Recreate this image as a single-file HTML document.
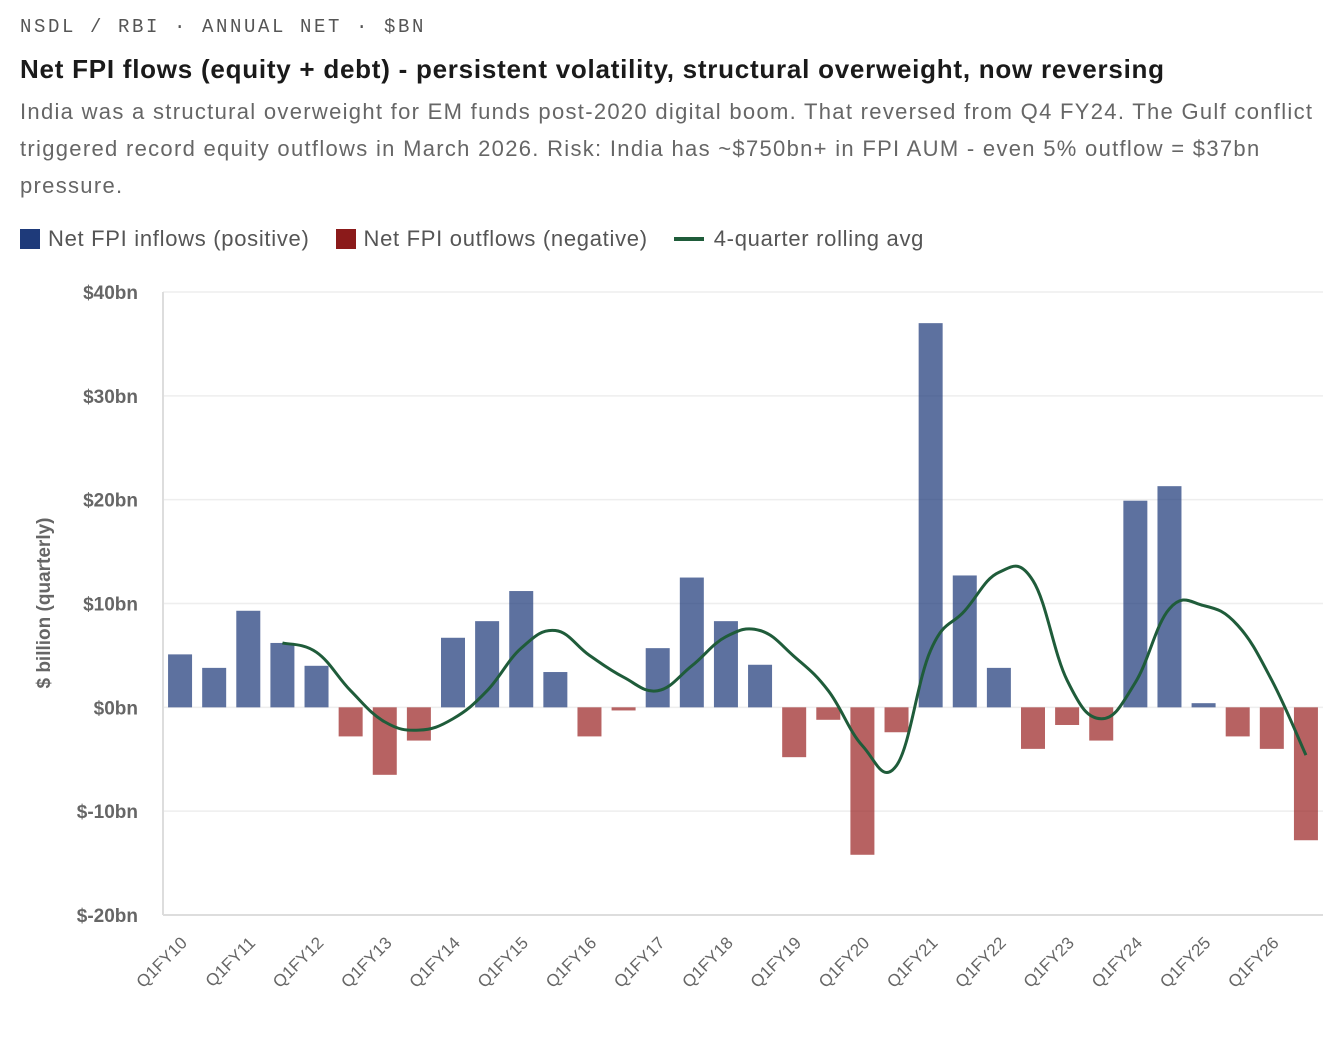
<!DOCTYPE html>
<html><head><meta charset="utf-8">
<style>
body{margin:0;background:#fff;width:1342px;height:1040px;overflow:hidden;font-family:"Liberation Sans",sans-serif;}
.hdr{position:absolute;left:20px;top:16px;font-family:"Liberation Mono",monospace;font-size:19px;letter-spacing:2.6px;color:#555;}
.title{position:absolute;left:20px;top:54px;font-size:26px;font-weight:bold;color:#1a1a1a;letter-spacing:0.75px;white-space:nowrap;}
.desc{position:absolute;left:20px;top:93px;width:1330px;font-size:22px;line-height:37px;color:#666;letter-spacing:1.3px;white-space:nowrap;}
.legend{position:absolute;left:20px;top:226px;font-size:22px;color:#555;display:flex;align-items:center;letter-spacing:0.7px;}
.sw{display:inline-block;width:20px;height:20px;margin-right:8px;}
.li{display:flex;align-items:center;margin-right:26px;}
</style></head><body>
<div class="hdr">NSDL / RBI · ANNUAL NET · $BN</div>
<div class="title">Net FPI flows (equity + debt) - persistent volatility, structural overweight, now reversing</div>
<div class="desc">India was a structural overweight for EM funds post-2020 digital boom. That reversed from Q4 FY24. The Gulf conflict<br>triggered record equity outflows in March 2026. Risk: India has ~$750bn+ in FPI AUM - even 5% outflow = $37bn<br>pressure.</div>
<div class="legend">
<div class="li"><span class="sw" style="background:#1e3a7a"></span>Net FPI inflows (positive)</div>
<div class="li"><span class="sw" style="background:#8b1a1a"></span>Net FPI outflows (negative)</div>
<div class="li"><span style="display:inline-block;width:30px;height:4px;background:#1f5c3a;margin-right:10px"></span>4-quarter rolling avg</div>
</div>
<svg id="chart" width="1342" height="1040" style="position:absolute;left:0;top:0"></svg>
<script>
const labels=["Q1FY10","Q1FY11","Q1FY12","Q1FY13","Q1FY14","Q1FY15","Q1FY16","Q1FY17","Q1FY18","Q1FY19","Q1FY20","Q1FY21","Q1FY22","Q1FY23","Q1FY24","Q1FY25","Q1FY26"];
const flows=[5.1,3.8,9.3,6.2,4.0,-2.8,-6.5,-3.2,6.7,8.3,11.2,3.4,-2.8,-0.3,5.7,12.5,8.3,4.1,-4.8,-1.2,-14.2,-2.4,37.0,12.7,3.8,-4.0,-1.7,-3.2,19.9,21.3,0.4,-2.8,-4.0,-12.8];
const rolling=[null,null,null,6.2,5.3,1.6,-1.4,-2.2,-1.1,1.6,5.7,7.4,5.0,2.9,1.6,4.0,6.8,7.4,4.9,1.6,-3.7,-5.6,5.5,9.3,13.0,12.2,2.6,-1.1,2.4,9.5,9.8,7.9,2.6,-4.6];
const yTicks=[40,30,20,10,0,-10,-20];
const NS="http://www.w3.org/2000/svg",svg=document.getElementById('chart');
const X0=163,X1=1323,Y0=292,Y1=915,ymin=-20,ymax=40;
const n=flows.length,band=(X1-X0)/n;
const xs=i=>X0+band*(i+0.5);
const ys=v=>Y1-(v-ymin)/(ymax-ymin)*(Y1-Y0);
function mk(t,a){const e=document.createElementNS(NS,t);for(const k in a)e.setAttribute(k,a[k]);svg.appendChild(e);return e;}
yTicks.forEach(v=>{
 const g=mk('line',{x1:X0,x2:X1,y1:ys(v),y2:ys(v),stroke:v==ymin?'#ddd':'#eee','stroke-width':v==ymin?2:1.5});
 
 
 const t=mk('text',{x:138,y:ys(v)+7,'text-anchor':'end','font-size':19,'font-weight':'bold',fill:'#666','font-family':'Liberation Sans'});
 t.textContent=(v<0?'$-'+(-v):'$'+v)+'bn';
 
 
});
const ax=mk('line',{x1:X0,x2:X0,y1:Y0,y2:Y1,stroke:'#ddd','stroke-width':2});


const yt=mk('text',{x:0,y:0,transform:'translate(50,603) rotate(-90)','text-anchor':'middle','font-size':19,'font-weight':'bold',fill:'#666','font-family':'Liberation Sans'});
yt.textContent='$ billion (quarterly)';


flows.forEach((v,i)=>{
 const y=Math.min(ys(v),ys(0)),h=Math.abs(ys(v)-ys(0));
 const r=mk('rect',{x:xs(i)-12,y:y,width:24,height:h,fill:v>=0?'rgba(30,58,122,0.72)':'rgba(153,32,32,0.7)'});
 
 
});
labels.forEach((l,j)=>{
 const x=xs(j*2);
 const t=mk('text',{x:0,y:0,transform:`translate(${x+8},${944}) rotate(-45)`,'text-anchor':'end','font-size':17,fill:'#666','font-family':'Liberation Sans'});
 t.textContent=l;
 
 
});
const pts=[];rolling.forEach((v,i)=>{if(v!==null)pts.push([xs(i),ys(v)]);});
let d='M'+pts[0][0]+','+pts[0][1];const k=0.4/2;
for(let i=0;i<pts.length-1;i++){
 const p0=pts[Math.max(i-1,0)],p1=pts[i],p2=pts[i+1],p3=pts[Math.min(i+2,pts.length-1)];
 const c1=[p1[0]+(p2[0]-p0[0])*k,p1[1]+(p2[1]-p0[1])*k],c2=[p2[0]-(p3[0]-p1[0])*k,p2[1]-(p3[1]-p1[1])*k];
 d+=` C${c1[0]},${c1[1]} ${c2[0]},${c2[1]} ${p2[0]},${p2[1]}`;
}
const ln=mk('path',{d:d,fill:'none',stroke:'#1f5c3a','stroke-width':3});


</script>
</body></html>
